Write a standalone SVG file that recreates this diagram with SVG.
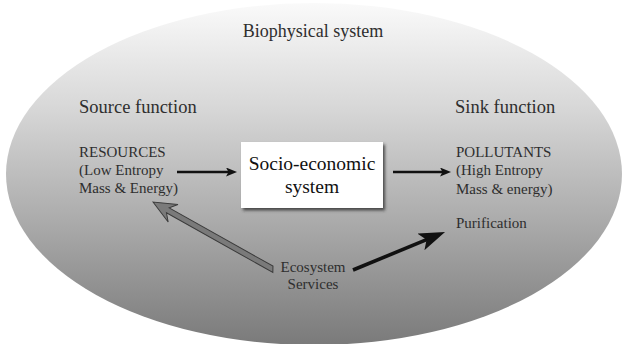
<svg xmlns="http://www.w3.org/2000/svg" width="622" height="344" viewBox="0 0 622 344">
  <defs>
    <linearGradient id="bg" x1="0" y1="0" x2="0" y2="1">
      <stop offset="0" stop-color="#fafafa"/>
      <stop offset="0.3" stop-color="#d8d8d8"/>
      <stop offset="0.6" stop-color="#b0b0b0"/>
      <stop offset="1" stop-color="#7a7a7a"/>
    </linearGradient>
    <filter id="shadow" x="-10%" y="-10%" width="130%" height="140%">
      <feDropShadow dx="2" dy="2.5" stdDeviation="1.5" flood-color="#333" flood-opacity="0.8"/>
    </filter>
    <marker id="headSmall" markerUnits="userSpaceOnUse" markerWidth="12" markerHeight="10" refX="3" refY="4.5" orient="auto" viewBox="0 0 12 10">
      <path d="M0,0 L11,4.5 L0,9 L2.5,4.5 Z" fill="#111"/>
    </marker>
    <marker id="headBig" markerUnits="userSpaceOnUse" markerWidth="28" markerHeight="20" refX="8" refY="9" orient="auto" viewBox="0 0 28 20">
      <path d="M0,0 L26,9 L0,18 L6,9 Z" fill="#111"/>
    </marker>
  </defs>
  <style>
    text { font-family: 'Liberation Serif', 'DejaVu Serif', serif; }
    .lbl { fill: #2e2e2e; }
    .big { font-size: 18.5px; }
    .title { font-size: 18px; }
    .small { font-size: 15px; }
    .box { font-size: 19.5px; fill: #111; }
    .conn { stroke: #111; fill: none; }
  </style>

  <g id="biophysical-system">
    <ellipse cx="314" cy="174" rx="308" ry="171" fill="url(#bg)"/>
    <text class="lbl title" x="313" y="37" text-anchor="middle" font-family="Liberation Serif, serif">Biophysical system</text>
  </g>

  <g id="source-function">
    <text class="lbl big" x="79" y="113" font-family="Liberation Serif, serif">Source function</text>
  </g>

  <g id="sink-function">
    <text class="lbl big" x="455" y="113" font-family="Liberation Serif, serif">Sink function</text>
  </g>

  <g id="resources" font-family="Liberation Serif, serif">
    <text class="lbl small" x="79" y="157">RESOURCES</text>
    <text class="lbl small" x="79" y="175">(Low Entropy</text>
    <text class="lbl small" x="79" y="193">Mass &amp; Energy)</text>
  </g>

  <g id="socio-economic-system" font-family="Liberation Serif, serif">
    <rect x="241" y="142" width="142" height="66" fill="#ffffff" filter="url(#shadow)"/>
    <text class="box" x="312" y="170" text-anchor="middle">Socio-economic</text>
    <text class="box" x="312" y="193" text-anchor="middle">system</text>
  </g>

  <g id="pollutants" font-family="Liberation Serif, serif">
    <text class="lbl small" x="456" y="157">POLLUTANTS</text>
    <text class="lbl small" x="456" y="175">(High Entropy</text>
    <text class="lbl small" x="456" y="194">Mass &amp; energy)</text>
  </g>

  <g id="purification" font-family="Liberation Serif, serif">
    <text class="lbl small" x="456" y="228">Purification</text>
  </g>

  <g id="ecosystem-services" font-family="Liberation Serif, serif">
    <text class="lbl small" x="313" y="272" text-anchor="middle">Ecosystem</text>
    <text class="lbl small" x="313" y="289" text-anchor="middle">Services</text>
  </g>

  <g id="connectors">
    <path class="conn" d="M177,172 L229,172" stroke-width="2.6" marker-end="url(#headSmall)"/>
    <path class="conn" d="M393,172 L443,172" stroke-width="2.6" marker-end="url(#headSmall)"/>
    <path class="conn" d="M353,270 L428.4,238.9" stroke-width="3.6" marker-end="url(#headBig)"/>
    <polygon transform="translate(153,202) rotate(209.3)" points="0,0 -23,-10 -17,-2.8 -139,-2.8 -136,2.8 -17,2.8 -23,10" fill="#7a7a7a" stroke="#3a3a3a" stroke-width="1" stroke-linejoin="miter"/>
  </g>
</svg>
